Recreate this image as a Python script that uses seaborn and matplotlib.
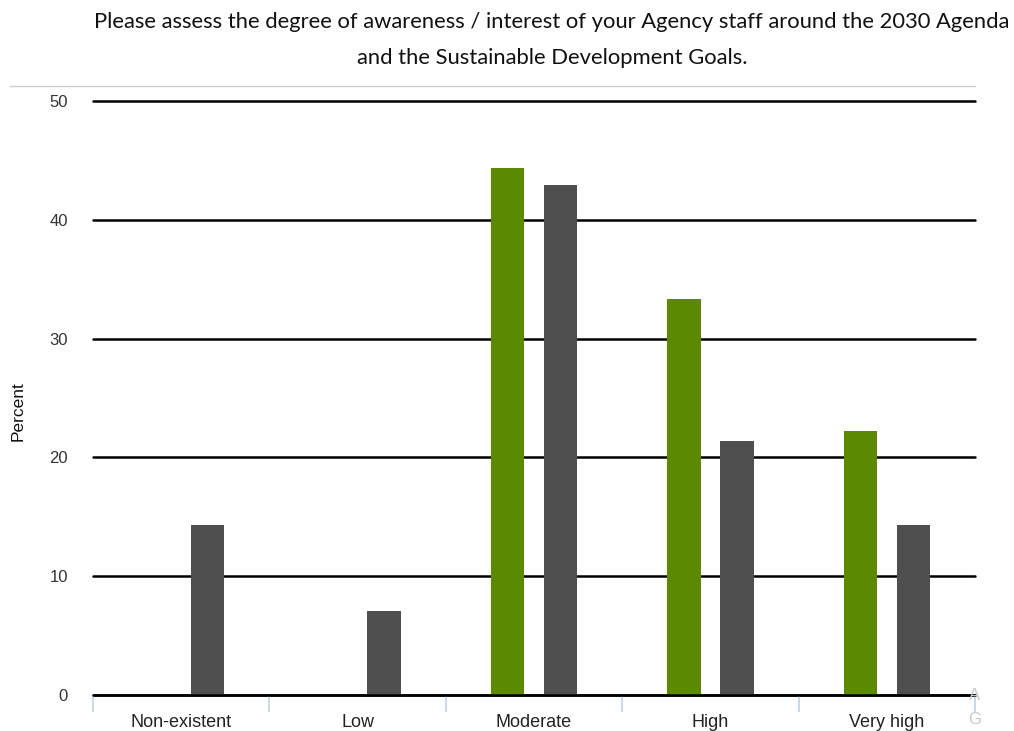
import matplotlib
matplotlib.use("Agg")
import matplotlib.pyplot as plt
from matplotlib.lines import Line2D
import pandas as pd
import seaborn as sns

categories = ["Non-existent", "Low", "Moderate", "High", "Very high"]
series_names = ["Agencies", "Staff"]
agency_pct = [0.0, 0.0, 44.4, 33.3, 22.2]
staff_pct = [14.3, 7.1, 42.9, 21.4, 14.3]
y_ticks = [0, 10, 20, 30, 40, 50]
title_lines = [
    "Please assess the degree of awareness / interest of your Agency staff around the 2030 Agenda",
    "and the Sustainable Development Goals.",
]

df = pd.DataFrame({
    "category": categories * 2,
    "series": [series_names[0]] * len(categories) + [series_names[1]] * len(categories),
    "percent": agency_pct + staff_pct,
})

sns.set_theme(style="white")
plt.rcParams["font.family"] = ["Liberation Sans", "DejaVu Sans"]

fig = plt.figure(figsize=(10.14, 7.31), dpi=100)
ax = fig.add_axes([93 / 1014, 1 - 695 / 731, (975 - 93) / 1014, (695 - 101) / 731])

# horizontal grid lines drawn beneath the bars
for v in y_ticks:
    ax.axhline(v, color="black", lw=1.8, zorder=0, clip_on=False)

sns.barplot(
    data=df, x="category", y="percent", hue="series", order=categories,
    hue_order=series_names, palette=["#5b8a00", "#4f4f4f"], saturation=1,
    width=0.6, gap=0.37, legend=False, ax=ax, zorder=2, linewidth=0,
)
ax.axhline(0, color="black", lw=1.8, zorder=3, clip_on=False)

ax.set_xlim(-0.5, len(categories) - 0.5)
ax.set_ylim(0, 50)
for s in ax.spines.values():
    s.set_visible(False)

ax.set_yticks(y_ticks)
ax.set_yticklabels([str(v) for v in y_ticks])
ax.tick_params(axis="y", left=False, length=0, pad=18, labelsize=12, labelcolor="#333333")

ax.set_xticks(range(len(categories)))
ax.set_xticklabels(categories)
ax.tick_params(axis="x", which="major", bottom=False, length=0, pad=14, labelsize=13, labelcolor="#222222")
ax.set_xticks([i - 0.5 for i in range(len(categories) + 1)], minor=True)
ax.tick_params(axis="x", which="minor", bottom=True, direction="out", length=12, width=1.2, color="#c3cfe6")
ax.set_xlabel("")
ax.set_ylabel("")

fig.text(18 / 1014, 1 - 411 / 731, "Percent", rotation=90, ha="center", va="center",
         fontsize=12.5, color="#111111")

# faint truncated annotation glyphs at the right end of the axis
fig.text(975 / 1014, 1 - 695 / 731, "A", ha="center", va="center", fontsize=12, color="#c8c8c8")
fig.text(975 / 1014, 1 - 720 / 731, "G", ha="center", va="center", fontsize=12, color="#c8c8c8")

# two-line title and the thin separator rule under it
fig.text(552 / 1014, 1 - 22 / 731, title_lines[0], ha="center", va="center",
         fontsize=15.8, family=["Lato", "DejaVu Sans"], color="#111111")
fig.text(552 / 1014, 1 - 58 / 731, title_lines[1], ha="center", va="center",
         fontsize=15.8, family=["Lato", "DejaVu Sans"], color="#111111")
fig.add_artist(Line2D([10 / 1014, 975 / 1014], [1 - 86 / 731, 1 - 86 / 731],
                      color="#cccccc", lw=1, transform=fig.transFigure))

fig.savefig("out.png", dpi=100)
